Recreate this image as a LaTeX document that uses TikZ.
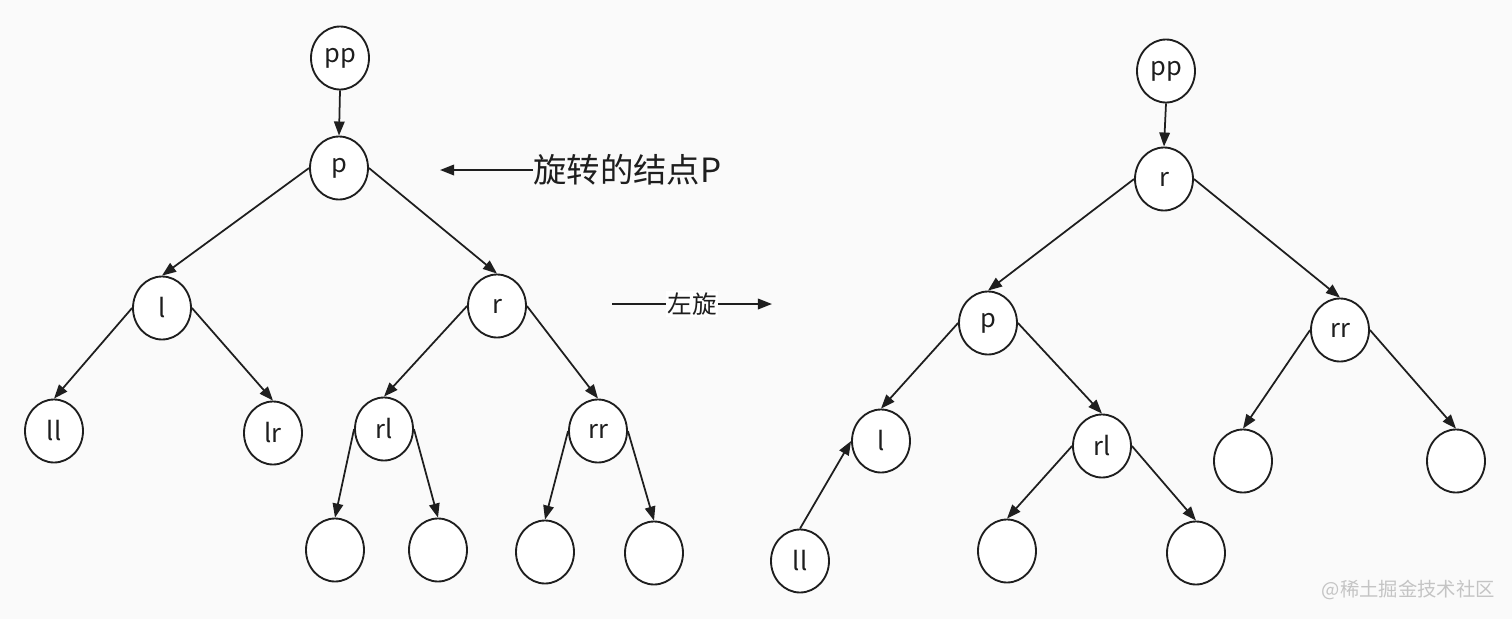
\documentclass[tikz,border=0pt]{standalone}
\usepackage{fontspec}
\setmainfont{Noto Sans CJK SC}
\usetikzlibrary{arrows.meta,shapes.geometric}
\definecolor{bgcol}{HTML}{FAFAFA}
\definecolor{inkcol}{HTML}{1E1E1E}
\definecolor{markcol}{HTML}{C4C4C4}

\begin{document}
\begin{tikzpicture}[x=0.02cm, y=-0.02cm,
    tnode/.style={ellipse, draw=inkcol, line width=1.05pt, fill=white,
      minimum width=1.16cm, minimum height=1.26cm, inner sep=0pt,
      font=\fontsize{14.5}{16}\selectfont, text=inkcol},
    tedge/.style={-{Triangle[length=8pt,width=6pt]}, line width=1pt, draw=inkcol}]
  \fill[bgcol] (0,0) rectangle (1512,619);
  \useasboundingbox (0,0) rectangle (1512,619);

  % left tree, before the rotation
  \foreach \n/\x/\y/\t in {App/340/58/pp, Ap/339/168/p, Al/162/308/l, Ar/497/306/r,
      All/54/431/ll, Alr/273/433/lr, Arl/384/429/rl, Arr/598/431/rr,
      Ae1/335/550/{}, Ae2/438/550/{}, Ae3/545/552/{}, Ae4/654/553/{}}
    \node[tnode] (\n) at (\x,\y) {\t};
  \foreach \a/\b in {App.south/Ap.north, Ap.west/Al.north, Ap.east/Ar.north,
      Al.west/All.north, Al.east/Alr.north, Ar.west/Arl.north, Ar.east/Arr.north,
      Arl.west/Ae1.north, Arl.east/Ae2.north, Arr.west/Ae3.north, Arr.east/Ae4.north}
    \draw[tedge] (\a) -- (\b);

  % right tree, after the rotation
  \foreach \n/\x/\y/\t in {Bpp/1166/71/pp, Br/1164/179/r, Bp/988/323/p, Brr/1340/330/rr,
      Bl/881/441/l, Brl/1102/446/rl, Bll/800/561/ll,
      Be1/1007/551/{}, Be2/1196/553/{}, Be3/1243/461/{}, Be4/1456/461/{}}
    \node[tnode] (\n) at (\x,\y) {\t};
  \foreach \a/\b in {Bpp.south/Br.north, Br.west/Bp.north, Br.east/Brr.north,
      Bp.west/Bl.north, Bp.east/Brl.north, Brr.west/Be3.north, Brr.east/Be4.north,
      Brl.west/Be1.north, Brl.east/Be2.north, Bll.north/Bl.west}
    \draw[tedge] (\a) -- (\b);

  % notes
  \node[anchor=west, inner sep=0pt, text=inkcol, font=\fontsize{19}{22}\selectfont] (note) at (533,170) {旋转的结点P};
  \coordinate (noteend) at (440,170);
  \draw[tedge] (note.west) -- (noteend);

  \coordinate (rotfrom) at (612,304);
  \coordinate (rotto) at (772,304);
  \draw[tedge] (rotfrom) -- node[fill=white, inner sep=1pt, text=inkcol, font=\fontsize{14}{16}\selectfont] (rotlabel) {左旋} (rotto);

  \node[anchor=east, inner sep=0pt, text=markcol, font=\fontsize{11}{13}\selectfont] (mark) at (1495,590) {@稀土掘金技术社区};
\end{tikzpicture}
\end{document}
